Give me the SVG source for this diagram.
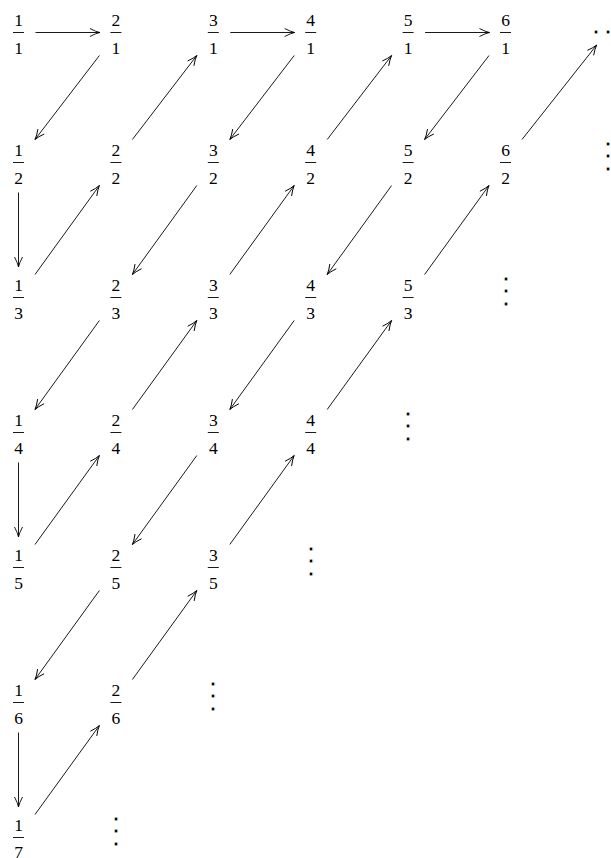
<svg xmlns="http://www.w3.org/2000/svg" width="611" height="858" viewBox="0 0 611 858">
<defs>
<style>
.t{font-family:"Liberation Serif","DejaVu Serif",serif;font-size:17.5px;fill:#000;text-anchor:middle}
.d{font-family:"DejaVu Serif","Liberation Serif",serif;font-size:36px;fill:#000;stroke:#fff;stroke-width:1px;text-anchor:middle}
.bar{stroke:#000;stroke-width:0.9}
.c line{stroke:#000;stroke-width:0.9;fill:none;marker-end:url(#ah)}
</style>
<marker id="ah" viewBox="-11 -6 12 12" refX="0" refY="0" markerWidth="12" markerHeight="12" markerUnits="userSpaceOnUse" orient="auto">
<path d="M-10,-4 Q-4,-0.8 0,0 Q-4,0.8 -10,4" fill="none" stroke="#000" stroke-width="0.9"/>
</marker>
</defs>
<rect width="611" height="858" fill="#fff"/>

<!-- nodes: fractions -->
<g id="n1_1"><text class="t" x="18.5" y="25.5">1</text><line class="bar" x1="13" y1="32.5" x2="24" y2="32.5"/><text class="t" x="18.5" y="53.5">1</text></g>
<g id="n2_1"><text class="t" x="115.9" y="25.5">2</text><line class="bar" x1="110.4" y1="32.5" x2="121.4" y2="32.5"/><text class="t" x="115.9" y="53.5">1</text></g>
<g id="n3_1"><text class="t" x="213.3" y="25.5">3</text><line class="bar" x1="207.8" y1="32.5" x2="218.8" y2="32.5"/><text class="t" x="213.3" y="53.5">1</text></g>
<g id="n4_1"><text class="t" x="310.7" y="25.5">4</text><line class="bar" x1="305.2" y1="32.5" x2="316.2" y2="32.5"/><text class="t" x="310.7" y="53.5">1</text></g>
<g id="n5_1"><text class="t" x="408.1" y="25.5">5</text><line class="bar" x1="402.6" y1="32.5" x2="413.6" y2="32.5"/><text class="t" x="408.1" y="53.5">1</text></g>
<g id="n6_1"><text class="t" x="505.5" y="25.5">6</text><line class="bar" x1="500" y1="32.5" x2="511" y2="32.5"/><text class="t" x="505.5" y="53.5">1</text></g>
<g id="n7_1"><text class="d" x="607.7" y="44">⋯</text></g>

<g id="n1_2"><text class="t" x="18.5" y="155.5">1</text><line class="bar" x1="13" y1="162.5" x2="24" y2="162.5"/><text class="t" x="18.5" y="183.5">2</text></g>
<g id="n2_2"><text class="t" x="115.9" y="155.5">2</text><line class="bar" x1="110.4" y1="162.5" x2="121.4" y2="162.5"/><text class="t" x="115.9" y="183.5">2</text></g>
<g id="n3_2"><text class="t" x="213.3" y="155.5">3</text><line class="bar" x1="207.8" y1="162.5" x2="218.8" y2="162.5"/><text class="t" x="213.3" y="183.5">2</text></g>
<g id="n4_2"><text class="t" x="310.7" y="155.5">4</text><line class="bar" x1="305.2" y1="162.5" x2="316.2" y2="162.5"/><text class="t" x="310.7" y="183.5">2</text></g>
<g id="n5_2"><text class="t" x="408.1" y="155.5">5</text><line class="bar" x1="402.6" y1="162.5" x2="413.6" y2="162.5"/><text class="t" x="408.1" y="183.5">2</text></g>
<g id="n6_2"><text class="t" x="505.5" y="155.5">6</text><line class="bar" x1="500" y1="162.5" x2="511" y2="162.5"/><text class="t" x="505.5" y="183.5">2</text></g>
<g id="n7_2"><text class="d" x="607.7" y="168">⋮</text></g>

<g id="n1_3"><text class="t" x="18.5" y="290.5">1</text><line class="bar" x1="13" y1="297.5" x2="24" y2="297.5"/><text class="t" x="18.5" y="318.5">3</text></g>
<g id="n2_3"><text class="t" x="115.9" y="290.5">2</text><line class="bar" x1="110.4" y1="297.5" x2="121.4" y2="297.5"/><text class="t" x="115.9" y="318.5">3</text></g>
<g id="n3_3"><text class="t" x="213.3" y="290.5">3</text><line class="bar" x1="207.8" y1="297.5" x2="218.8" y2="297.5"/><text class="t" x="213.3" y="318.5">3</text></g>
<g id="n4_3"><text class="t" x="310.7" y="290.5">4</text><line class="bar" x1="305.2" y1="297.5" x2="316.2" y2="297.5"/><text class="t" x="310.7" y="318.5">3</text></g>
<g id="n5_3"><text class="t" x="408.1" y="290.5">5</text><line class="bar" x1="402.6" y1="297.5" x2="413.6" y2="297.5"/><text class="t" x="408.1" y="318.5">3</text></g>
<g id="n6_3"><text class="d" x="505.5" y="303">⋮</text></g>

<g id="n1_4"><text class="t" x="18.5" y="425.5">1</text><line class="bar" x1="13" y1="432.5" x2="24" y2="432.5"/><text class="t" x="18.5" y="453.5">4</text></g>
<g id="n2_4"><text class="t" x="115.9" y="425.5">2</text><line class="bar" x1="110.4" y1="432.5" x2="121.4" y2="432.5"/><text class="t" x="115.9" y="453.5">4</text></g>
<g id="n3_4"><text class="t" x="213.3" y="425.5">3</text><line class="bar" x1="207.8" y1="432.5" x2="218.8" y2="432.5"/><text class="t" x="213.3" y="453.5">4</text></g>
<g id="n4_4"><text class="t" x="310.7" y="425.5">4</text><line class="bar" x1="305.2" y1="432.5" x2="316.2" y2="432.5"/><text class="t" x="310.7" y="453.5">4</text></g>
<g id="n5_4"><text class="d" x="408.1" y="438">⋮</text></g>

<g id="n1_5"><text class="t" x="18.5" y="560.5">1</text><line class="bar" x1="13" y1="567.5" x2="24" y2="567.5"/><text class="t" x="18.5" y="588.5">5</text></g>
<g id="n2_5"><text class="t" x="115.9" y="560.5">2</text><line class="bar" x1="110.4" y1="567.5" x2="121.4" y2="567.5"/><text class="t" x="115.9" y="588.5">5</text></g>
<g id="n3_5"><text class="t" x="213.3" y="560.5">3</text><line class="bar" x1="207.8" y1="567.5" x2="218.8" y2="567.5"/><text class="t" x="213.3" y="588.5">5</text></g>
<g id="n4_5"><text class="d" x="310.7" y="573">⋮</text></g>

<g id="n1_6"><text class="t" x="18.5" y="695.5">1</text><line class="bar" x1="13" y1="702.5" x2="24" y2="702.5"/><text class="t" x="18.5" y="723.5">6</text></g>
<g id="n2_6"><text class="t" x="115.9" y="695.5">2</text><line class="bar" x1="110.4" y1="702.5" x2="121.4" y2="702.5"/><text class="t" x="115.9" y="723.5">6</text></g>
<g id="n3_6"><text class="d" x="213.3" y="708">⋮</text></g>

<g id="n1_7"><text class="t" x="18.5" y="830.5">1</text><line class="bar" x1="13" y1="837.5" x2="24" y2="837.5"/><text class="t" x="18.5" y="857.8">7</text></g>
<g id="n2_7"><text class="d" x="115.9" y="843">⋮</text></g>

<!-- connectors -->
<g id="connectors" class="c">
<line x1="35.5" y1="32.5" x2="99.9" y2="32.5"/>
<line x1="230.3" y1="32.5" x2="294.7" y2="32.5"/>
<line x1="425.1" y1="32.5" x2="489.5" y2="32.5"/>

<line x1="18.5" y1="192.5" x2="18.5" y2="267"/>
<line x1="18.5" y1="462.5" x2="18.5" y2="537"/>
<line x1="18.5" y1="732.5" x2="18.5" y2="807"/>

<line x1="99.4" y1="55.5" x2="35" y2="139.5"/>
<line x1="294.2" y1="55.5" x2="229.8" y2="139.5"/>
<line x1="196.8" y1="185.5" x2="132.4" y2="274.5"/>
<line x1="99.4" y1="320.5" x2="35" y2="409.5"/>
<line x1="489" y1="55.5" x2="424.6" y2="139.5"/>
<line x1="391.6" y1="185.5" x2="327.2" y2="274.5"/>
<line x1="294.2" y1="320.5" x2="229.8" y2="409.5"/>
<line x1="196.8" y1="455.5" x2="132.4" y2="544.5"/>
<line x1="99.4" y1="590.5" x2="35" y2="679.5"/>

<line x1="35" y1="274.5" x2="99.4" y2="185.5"/>
<line x1="132.4" y1="139.5" x2="196.8" y2="55.5"/>
<line x1="35" y1="544.5" x2="99.4" y2="455.5"/>
<line x1="132.4" y1="409.5" x2="196.8" y2="320.5"/>
<line x1="229.8" y1="274.5" x2="294.2" y2="185.5"/>
<line x1="327.2" y1="139.5" x2="391.6" y2="55.5"/>
<line x1="35" y1="814.5" x2="99.4" y2="725.5"/>
<line x1="132.4" y1="679.5" x2="196.8" y2="590.5"/>
<line x1="229.8" y1="544.5" x2="294.2" y2="455.5"/>
<line x1="327.2" y1="409.5" x2="391.6" y2="320.5"/>
<line x1="424.6" y1="274.5" x2="489" y2="185.5"/>
<line x1="522" y1="139.5" x2="596.7" y2="45"/>
</g>
</svg>
